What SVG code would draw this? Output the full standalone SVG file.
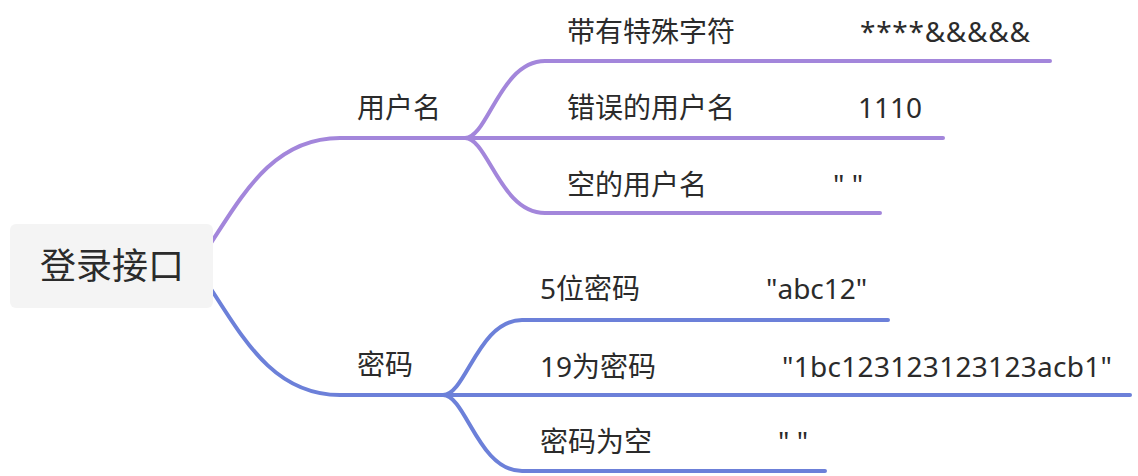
<svg xmlns="http://www.w3.org/2000/svg" width="1138" height="476" viewBox="0 0 1138 476">
<style>
text{font-family:"Noto Sans","Noto Sans CJK SC",sans-serif;fill:#2b2b2b;font-size:28px}
.p{fill:none;stroke:#a386db;stroke-width:4;stroke-linecap:round}
.b{fill:none;stroke:#6c80d9;stroke-width:4;stroke-linecap:round}
.root{font-size:36px}
</style>
<rect width="1138" height="476" fill="#ffffff"/>
<g id="connectors">
<path class="p" d="M 205 252 C 240 200, 270 138, 340 138 L 467 138"/>
<path class="p" d="M 465 138 C 488 138, 500 61, 545 61 L 1050 61"/>
<path class="p" d="M 465 138 L 943 138"/>
<path class="p" d="M 465 138 C 488 138, 500 213, 545 213 L 880 213"/>
<path class="b" d="M 205 280 C 240 332, 270 395, 340 395 L 445 395"/>
<path class="b" d="M 443 395 C 466 395, 478 320, 522 320 L 888 320"/>
<path class="b" d="M 443 395 L 1130 395"/>
<path class="b" d="M 443 395 C 466 395, 478 471, 522 471 L 825 471"/>
</g>
<g id="root">
<rect x="10" y="224" width="203" height="84" rx="6" fill="#f4f4f4"/>
<text class="root" x="40" y="279">登录接口</text>
</g>
<g id="username"><text x="357" y="118">用户名</text></g>
<g id="special"><text x="567" y="42">带有特殊字符<tspan x="860" textLength="170" lengthAdjust="spacing">****&amp;&amp;&amp;&amp;&amp;</tspan></text></g>
<g id="wrong-username"><text x="567" y="118">错误的用户名<tspan x="858">1110</tspan></text></g>
<g id="empty-username"><text x="567" y="195">空的用户名<tspan x="833">" "</tspan></text></g>
<g id="password"><text x="357" y="375">密码</text></g>
<g id="pwd5"><text x="540" y="299">5位密码<tspan x="766">"abc12"</tspan></text></g>
<g id="pwd19"><text x="540" y="377">19为密码<tspan x="782" textLength="330" lengthAdjust="spacing">"1bc123123123123acb1"</tspan></text></g>
<g id="pwd-empty"><text x="540" y="452">密码为空<tspan x="778">" "</tspan></text></g>
</svg>
